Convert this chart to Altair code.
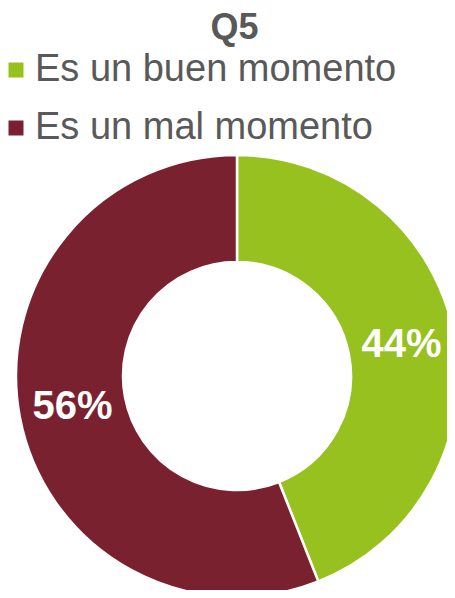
import altair as alt
import pandas as pd

categories = ["Es un buen momento", "Es un mal momento"]
values = [44, 56]
labels = ["44%", "56%"]
colors = ["#96C11F", "#7A2130"]

df = pd.DataFrame({"cat": categories, "val": values, "label": labels, "ord": [0, 1]})

cx, cy = 229, 318
outer, inner = 221, 114

base = alt.Chart(df).encode(
    theta=alt.Theta("val:Q", stack=True),
    order=alt.Order("ord:Q"),
)

arcs = base.mark_arc(outerRadius=outer, innerRadius=inner, stroke="white", strokeWidth=2.5).encode(
    color=alt.Color(
        "cat:N",
        scale=alt.Scale(domain=categories, range=colors),
        legend=alt.Legend(
            title=None,
            orient="none",
            legendX=-11,
            legendY=-7,
            symbolType="square",
            symbolSize=225,
            symbolStrokeWidth=0,
            labelFontSize=38,
            labelColor="#595959",
            labelFont="Liberation Sans",
            labelOffset=0,
            rowPadding=20,
            padding=0,
            labelLimit=500,
        ),
    ),
    x=alt.value(cx),
    y=alt.value(cy),
)

text = base.mark_text(radius=(outer + inner) / 2, fontSize=40, fontWeight="bold", color="white",
                      font="Liberation Sans").encode(
    text="label:N",
    x=alt.value(cx),
    y=alt.value(cy),
)

chart = (arcs + text).properties(
    width=439,
    height=532,
    padding={"left": 0, "top": 50, "right": 0, "bottom": 0},
    autosize=alt.AutoSizeParams(type="none"),
    title=alt.TitleParams("Q5", anchor="middle", fontSize=36, fontWeight="bold", color="#595959",
                          font="Liberation Sans", dy=0, dx=7),
).configure_view(stroke=None)

chart.save("out.html", embed_options={"renderer": "svg", "actions": False})
